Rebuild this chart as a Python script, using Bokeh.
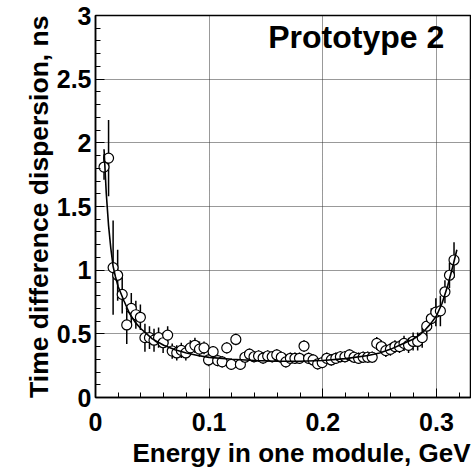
from bokeh.plotting import figure
from bokeh.models import Range1d, FixedTicker, CustomJSTickFormatter, Label, Title, ColumnDataSource
from bokeh.embed import file_html
from bokeh.resources import INLINE

# ---- data ----
energy = [0.0075, 0.0115, 0.0155, 0.0195, 0.0235, 0.0275, 0.0315, 0.0355, 0.0395, 0.0435,
          0.0475, 0.0515, 0.0555, 0.0595, 0.0635, 0.0675, 0.0715, 0.0755, 0.0795, 0.0835,
          0.0875, 0.0915, 0.0955, 0.0995, 0.1035, 0.1075, 0.1115, 0.1155, 0.1195, 0.1235,
          0.1275, 0.1315, 0.1355, 0.1395, 0.1435, 0.1475, 0.1515, 0.1555, 0.1595, 0.1635,
          0.1675, 0.1715, 0.1755, 0.1795, 0.1835, 0.1875, 0.1915, 0.1955, 0.1995, 0.2035,
          0.2075, 0.2115, 0.2155, 0.2195, 0.2235, 0.2275, 0.2315, 0.2355, 0.2395, 0.2435,
          0.2475, 0.2515, 0.2555, 0.2595, 0.2635, 0.2675, 0.2715, 0.2755, 0.2795, 0.2835,
          0.2875, 0.2915, 0.2955, 0.2995, 0.3035, 0.3075, 0.3115, 0.3155]
dispersion = [1.81, 1.88, 1.02, 0.96, 0.81, 0.57, 0.70, 0.65, 0.63, 0.47,
              0.47, 0.45, 0.47, 0.43, 0.49, 0.365, 0.35, 0.37, 0.35, 0.39,
              0.41, 0.38, 0.39, 0.295, 0.36, 0.29, 0.28, 0.39, 0.26, 0.456,
              0.26, 0.316, 0.34, 0.32, 0.326, 0.31, 0.326, 0.32, 0.334, 0.316,
              0.28, 0.308, 0.308, 0.308, 0.404, 0.308, 0.295, 0.264, 0.274, 0.308,
              0.295, 0.308, 0.32, 0.32, 0.334, 0.316, 0.308, 0.316, 0.316, 0.316,
              0.425, 0.40, 0.368, 0.378, 0.40, 0.40, 0.425, 0.41, 0.44, 0.44,
              0.47, 0.56, 0.62, 0.67, 0.68, 0.83, 0.96, 1.08]
error = [0.10, 0.30, 0.37, 0.20, 0.15, 0.15, 0.12, 0.11, 0.10, 0.11,
         0.09, 0.09, 0.08, 0.08, 0.07, 0.06, 0.06, 0.06, 0.06, 0.06,
         0.06, 0.06, 0.05, 0.05, 0.045, 0.045, 0.045, 0.045, 0.045, 0.045,
         0.045, 0.045, 0.045, 0.045, 0.045, 0.045, 0.045, 0.045, 0.045, 0.045,
         0.045, 0.045, 0.045, 0.045, 0.045, 0.045, 0.045, 0.045, 0.045, 0.045,
         0.045, 0.045, 0.045, 0.045, 0.045, 0.045, 0.045, 0.045, 0.045, 0.045,
         0.05, 0.05, 0.05, 0.05, 0.05, 0.05, 0.06, 0.06, 0.07, 0.07,
         0.08, 0.08, 0.08, 0.11, 0.12, 0.09, 0.10, 0.14]

fit_x = [0.0075, 0.0095, 0.0115, 0.0135, 0.0155, 0.0175, 0.020, 0.025, 0.030, 0.035,
         0.040, 0.050, 0.060, 0.070, 0.080, 0.090, 0.100, 0.120, 0.140, 0.160,
         0.180, 0.200, 0.220, 0.240, 0.250, 0.260, 0.270, 0.280, 0.285, 0.290,
         0.295, 0.300, 0.305, 0.310, 0.315, 0.318]
fit_y = [1.95, 1.60, 1.35, 1.17, 1.03, 0.95, 0.87, 0.76, 0.66, 0.59,
         0.54, 0.46, 0.41, 0.375, 0.35, 0.33, 0.315, 0.30, 0.29, 0.285,
         0.285, 0.29, 0.305, 0.33, 0.35, 0.38, 0.42, 0.46, 0.49, 0.53,
         0.58, 0.64, 0.74, 0.88, 1.05, 1.16]

x_major = [0.0, 0.1, 0.2, 0.3]
x_minor = [0.02, 0.04, 0.06, 0.08, 0.12, 0.14, 0.16, 0.18, 0.22, 0.24, 0.26, 0.28, 0.32]
y_major = [0.0, 0.5, 1.0, 1.5, 2.0, 2.5, 3.0]
y_minor = [0.1, 0.2, 0.3, 0.4, 0.6, 0.7, 0.8, 0.9, 1.1, 1.2, 1.3, 1.4, 1.6, 1.7, 1.8, 1.9,
           2.1, 2.2, 2.3, 2.4, 2.6, 2.7, 2.8, 2.9]

x_title = "Energy in one module, GeV"
y_title = "Time difference dispersion, ns"
panel_text = "Prototype 2"

FONT = "Liberation Sans"

lower = [v - e for v, e in zip(dispersion, error)]
upper = [v + e for v, e in zip(dispersion, error)]
src = ColumnDataSource(dict(x=energy, y=dispersion, lo=lower, hi=upper))

p = figure(width=471, height=469, output_backend="svg", toolbar_location=None,
           x_range=Range1d(0, 0.33), y_range=Range1d(0, 3),
           min_border_left=95, min_border_right=1, min_border_top=15, min_border_bottom=10)
p.background_fill_color = "white"
p.border_fill_color = "white"
p.outline_line_color = "black"
p.outline_line_width = 1.5

fmt = CustomJSTickFormatter(code="return (Math.round(tick*1000)/1000).toString();")
p.xaxis.ticker = FixedTicker(ticks=x_major, minor_ticks=x_minor)
p.yaxis.ticker = FixedTicker(ticks=y_major, minor_ticks=y_minor)
for ax in (p.xaxis[0], p.yaxis[0]):
    ax.formatter = fmt
    ax.major_tick_in = 9
    ax.major_tick_out = 0
    ax.minor_tick_in = 5
    ax.minor_tick_out = 0
    ax.major_tick_line_color = "black"
    ax.minor_tick_line_color = "black"
    ax.axis_line_color = "black"
    ax.axis_line_width = 1.5
    ax.major_label_text_font = FONT
    ax.major_label_text_font_style = "bold"
    ax.major_label_text_font_size = "25px"
    ax.major_label_text_color = "black"
p.xaxis.major_label_standoff = 15
p.yaxis.major_label_standoff = 4

for g in (p.xgrid[0], p.ygrid[0]):
    g.grid_line_color = "#333333"
    g.grid_line_dash = "1 1"
    g.grid_line_width = 1

xt = Title(text=x_title, align="right", text_font=FONT, text_font_style="bold",
           text_font_size="26px", text_color="black", standoff=4)
p.add_layout(xt, "below")
yt = Title(text=y_title, align="right", text_font=FONT, text_font_style="bold",
           text_font_size="26.5px", text_color="black", standoff=0)
p.add_layout(yt, "left")

p.segment(x0="x", y0="lo", x1="x", y1="hi", source=src, line_color="black", line_width=1.5)
p.scatter(x="x", y="y", source=src, marker="circle", size=10, fill_color="white",
          line_color="black", line_width=1.2)
p.line(fit_x, fit_y, line_color="black", line_width=1.6)

p.add_layout(Label(x=0.152, y=2.83, text=panel_text, text_font=FONT,
                   text_font_style="bold", text_font_size="32px", text_color="black",
                   text_baseline="alphabetic", text_align="left"))

open("out.html", "w").write(file_html(p, INLINE))
